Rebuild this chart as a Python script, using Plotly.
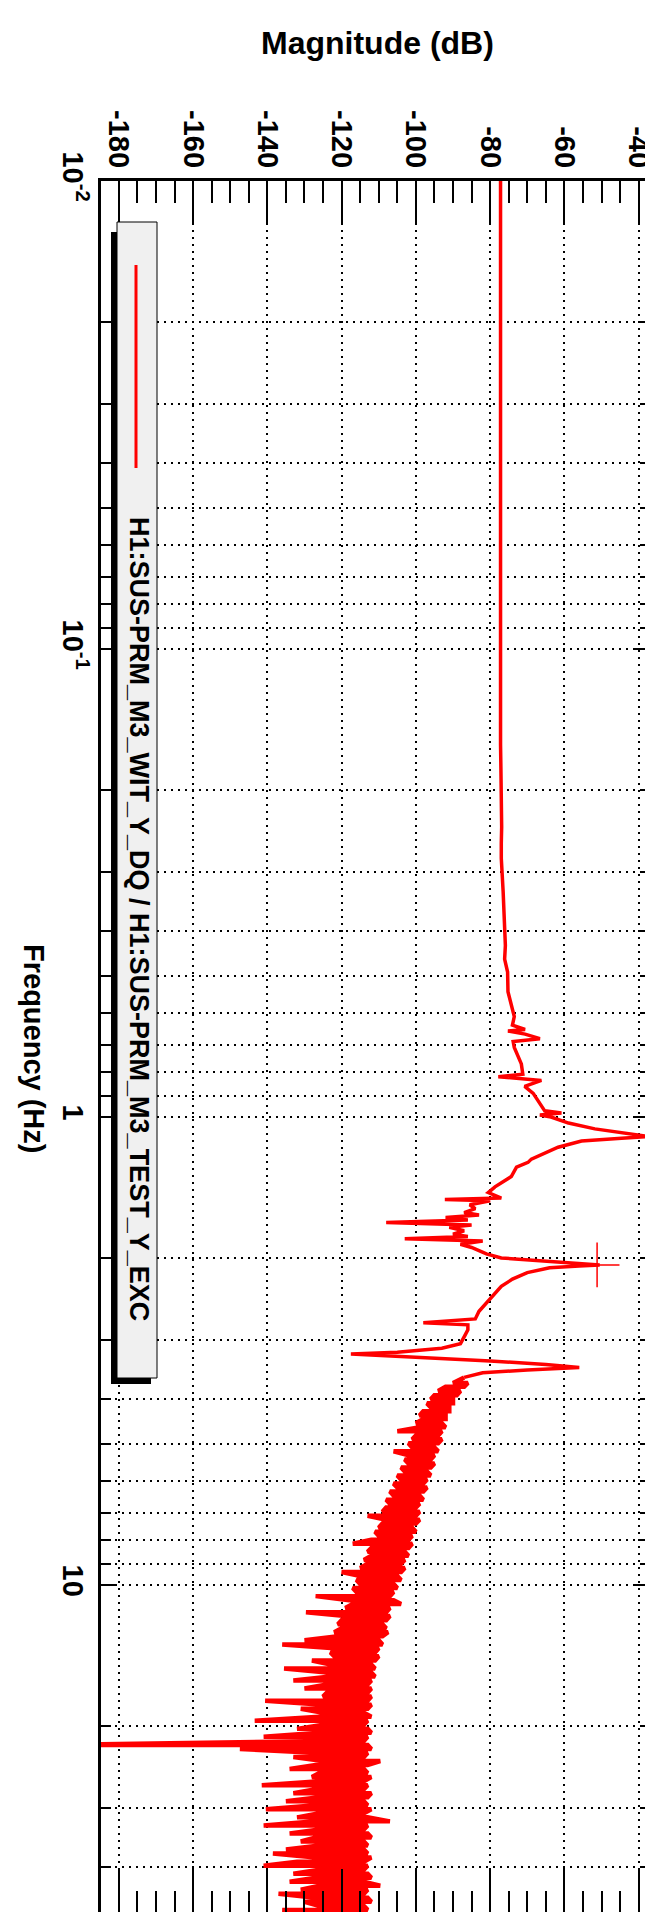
import math
import plotly.graph_objects as go

# ---------------- data ----------------
# low-frequency flat part and first resonance (single-valued line)
freq_low = [0.01, 0.015, 0.02, 0.03, 0.04, 0.05, 0.06, 0.07, 0.08, 0.1, 0.12,
            0.14, 0.16, 0.18, 0.2, 0.22, 0.24, 0.26, 0.28]
mag_low = [-77.2, -77.2, -77.3, -77.3, -77.4, -77.4, -77.3, -77.4, -77.3, -77.3,
           -77.3, -77.2, -77.2, -77.1, -77.0, -77.0, -76.9, -77.0, -77.0]

freq_mid = [0.33, 0.39, 0.43, 0.46, 0.49, 0.54, 0.575, 0.61, 0.636, 0.65, 0.655,
            0.665, 0.68, 0.69, 0.71, 0.74, 0.77, 0.81, 0.82, 0.835, 0.86, 0.89,
            0.94, 0.97, 0.98, 0.99, 1.0, 1.03, 1.06, 1.085, 1.10, 1.11, 1.125,
            1.16, 1.195, 1.23, 1.25, 1.28, 1.34, 1.38, 1.41, 1.45, 1.49, 1.5,
            1.51, 1.54]
mag_mid = [-76.5, -76.0, -75.9, -76.1, -75.3, -75.2, -74.4, -73.5, -74.0, -70.6,
           -75.2, -70.6, -66.6, -73.8, -73.5, -72.5, -71.6, -71.2, -77.8, -66.2,
           -70.7, -68.4, -66.6, -65.3, -60.8, -66.6, -63.6, -58.9, -51.8, -42.8,
           -37.4, -44.6, -55.4, -61.7, -65.3, -68.9, -69.8, -72.9, -74.3, -77.0,
           -78.7, -80.5, -77.0, -92.2, -80.0, -85.5]

# second and third resonances
freq_res = [1.57, 1.6, 1.62, 1.64, 1.66, 1.68, 1.7, 1.72, 1.75, 1.78, 1.8, 1.82,
            1.84, 1.87, 1.9, 1.93, 1.96, 2.0, 2.03, 2.06, 2.07, 2.08, 2.1, 2.15,
            2.22, 2.3, 2.4, 2.5, 2.6, 2.7, 2.75, 2.78, 2.85, 2.95, 3.05, 3.12,
            3.18, 3.21, 3.26, 3.32, 3.38, 3.43, 3.47, 3.52, 3.6]
mag_res = [-84, -87, -83, -92, -86, -108, -85, -91, -87, -90, -86, -103, -82,
           -88, -85, -83, -81, -77, -66, -52, -50.5, -56, -64, -70, -74, -77,
           -79, -81, -83, -84, -98, -86, -86, -87, -88, -93, -105, -117.5, -100,
           -80, -65, -56, -70, -82, -87]

# noisy high-frequency band: lower and upper envelope per frequency bin
freq_high = [3.70, 3.77, 3.85, 3.93, 4.01, 4.09, 4.17, 4.25, 4.34, 4.42, 4.51,
             4.60, 4.69, 4.79, 4.88, 4.98, 5.08, 5.18, 5.28, 5.39, 5.50, 5.61,
             5.72, 5.83, 5.95, 6.07, 6.19, 6.31, 6.44, 6.57, 6.70, 6.83, 6.97,
             7.11, 7.25, 7.39, 7.54, 7.69, 7.85, 8.00, 8.16, 8.33, 8.49, 8.66,
             8.84, 9.01, 9.19, 9.38, 9.56, 9.75, 9.95, 10.15, 10.35, 10.56,
             10.77, 10.98, 11.20, 11.43, 11.65, 11.89, 12.13, 12.37, 12.61,
             12.87, 13.12, 13.39, 13.65, 13.93, 14.20, 14.49, 14.78, 15.07,
             15.38, 15.68, 16.00, 16.32, 16.64, 16.98, 17.31, 17.66, 18.01,
             18.37, 18.74, 19.12, 19.50, 19.89, 20.29, 20.69, 21.10, 21.53,
             21.96, 22.40, 22.84, 23.30, 23.77, 24.24, 24.73, 25.22, 25.72,
             26.24, 26.76, 27.30, 27.85, 28.40, 28.97, 29.55, 30.14, 30.74,
             31.36, 31.98, 32.62, 33.28, 33.94, 34.62, 35.31, 36.02, 36.74,
             37.47, 38.22, 38.99, 39.77, 40.56, 41.37, 42.20, 43.05, 43.91,
             44.78, 45.68, 46.59, 47.52, 48.48, 49.44, 50.00]
mag_high_lo = [-90, -92, -94, -95, -96, -97, -96, -98, -99, -98, -100, -99, -105,
               -100, -101, -102, -101, -106, -102, -103, -102, -104, -103, -105,
               -104, -106, -105, -107, -106, -108, -107, -108, -109, -113, -108,
               -109, -110, -111, -110, -112, -117, -112, -113, -112, -114, -113,
               -115, -120, -115, -116, -115, -117, -116, -127, -118, -117, -119,
               -129.6, -119, -120, -121, -120, -122, -121, -130, -136, -122,
               -123, -122, -128, -123, -135.5, -124, -123, -133, -124, -130,
               -124, -125, -140.6, -125, -131, -125, -126, -143.4, -125, -132,
               -126, -141, -125, -195, -147.4, -126, -133, -125, -127, -134,
               -126, -128, -126, -141.5, -127, -133, -126, -135, -127, -140.4,
               -126, -132, -127, -141, -126, -134, -127, -131, -126, -135,
               -138.5, -127, -132, -141, -126, -133, -127, -134, -126, -131,
               -137, -127, -130, -126, -136, -127]
mag_high_hi = [-86, -87, -88, -89, -90, -90, -91, -91, -92, -92, -93, -92, -93,
               -94, -93, -94, -95, -94, -95, -96, -95, -96, -97, -96, -97, -98,
               -97, -98, -99, -98, -99, -100, -99, -100, -99, -100, -101, -100,
               -101, -102, -101, -102, -103, -102, -103, -104, -103, -104, -105,
               -104, -106, -105, -106, -107, -106, -104, -107, -108, -107, -108,
               -109, -108, -107.5, -109, -110, -109, -110, -111, -110, -111,
               -112, -111, -112, -111, -112, -113, -112, -113, -112, -113, -112,
               -113, -114, -112, -113, -114, -113, -112, -113, -114, -113, -112,
               -113, -114, -109.6, -113, -114, -113, -112, -114, -113, -114,
               -112, -113, -114, -113, -112, -114, -113, -107, -113, -114, -113,
               -112, -114, -113, -114, -113, -112, -114, -113, -114, -113, -112,
               -114, -109.6, -113, -114, -113, -112, -114, -113, -114]

cursor_freq = [2.07]
cursor_db = [-51.2]

legend_label = "H1:SUS-PRM_M3_WIT_Y_DQ / H1:SUS-PRM_M3_TEST_Y_EXC"
x_tick_vals = [-180, -160, -140, -120, -100, -80, -60, -40]
x_tick_text = ["-180", "-160", "-140", "-120", "-100", "-80", "-60", "-40"]
y_tick_vals = [0.01, 0.1, 1, 10]
y_tick_text = ["10<sup>-2</sup>", "10<sup>-1</sup>", "1", "10"]
y_minor_vals = [0.02, 0.03, 0.04, 0.05, 0.06, 0.07, 0.08, 0.09,
                0.2, 0.3, 0.4, 0.5, 0.6, 0.7, 0.8, 0.9,
                2, 3, 4, 5, 6, 7, 8, 9, 20, 30, 40]

# trace paths: single-valued line, then the noisy band traversed bin by bin
freq_line = freq_low + freq_mid + freq_res
mag_line = mag_low + mag_mid + mag_res
freq_band = [freq_res[-1]]
mag_band = [mag_res[-1]]
for i, f in enumerate(freq_high):
    if i % 2 == 0:
        pair = (mag_high_lo[i], mag_high_hi[i])
    else:
        pair = (mag_high_hi[i], mag_high_lo[i])
    freq_band += [f, f]
    mag_band += list(pair)

# ---------------- layout geometry ----------------
W, H = 653, 1912
L, R, T, B = 93, 11, 173, 7
PW, PH = W - L - R, H - T - B


def px(x):
    return (x - L) / PW


def py(y):
    return 1 - (y - T) / PH


FONT = "Liberation Sans"
RED = "#ff0000"

fig = go.Figure()
fig.add_trace(go.Scatter(x=mag_line, y=freq_line, mode="lines",
                         line=dict(color=RED, width=3.5), showlegend=False))
fig.add_trace(go.Scatter(x=mag_band, y=freq_band, mode="lines",
                         line=dict(color=RED, width=4.5), showlegend=False))
fig.add_trace(go.Scatter(x=cursor_db, y=cursor_freq, mode="markers",
                         marker=dict(symbol="cross-thin", size=32,
                                     line=dict(color=RED, width=1.5)),
                         showlegend=False))

dots = "2px,5px"
fig.update_xaxes(
    side="top", range=[-184.8, -36.95], tickvals=x_tick_vals, ticktext=x_tick_text,
    ticks="inside", ticklen=44, tickwidth=1.5, tickcolor="black",
    tickangle=90,
    tickfont=dict(family=FONT, size=29, color="black", weight="bold"),
    showline=True, linewidth=2.5, linecolor="black", mirror="allticks",
    showgrid=True, gridcolor="black", gridwidth=1.5, griddash=dots,
    minor=dict(dtick=5, tick0=0, ticks="inside", ticklen=22, tickwidth=1.5,
               tickcolor="black", showgrid=False),
    zeroline=False, automargin=False,
)
fig.update_yaxes(
    type="log", range=[math.log10(50.2), -2], tickvals=y_tick_vals,
    ticktext=y_tick_text, ticks="inside", ticklen=16, tickwidth=1.5,
    tickcolor="black", tickangle=90,
    tickfont=dict(family=FONT, size=29, color="black", weight="bold"),
    showline=True, linewidth=2.5, linecolor="black", mirror="allticks",
    showgrid=True, gridcolor="black", gridwidth=1.5, griddash=dots,
    minor=dict(tickvals=y_minor_vals, ticks="inside", ticklen=10, tickwidth=1.5,
               tickcolor="black", showgrid=True, gridcolor="black",
               gridwidth=1.5, griddash=dots),
    zeroline=False, automargin=False,
)

shapes = [
    dict(type="rect", xref="paper", yref="paper", x0=px(103), x1=px(143),
         y0=py(1376), y1=py(224), fillcolor="black", line=dict(width=0),
         layer="above"),
    dict(type="rect", xref="paper", yref="paper", x0=px(109), x1=px(149),
         y0=py(1370), y1=py(214), fillcolor="#f0f0f0",
         line=dict(color="black", width=1), layer="above"),
    dict(type="line", xref="paper", yref="paper", x0=px(128), x1=px(128),
         y0=py(257), y1=py(460), line=dict(color=RED, width=3),
         layer="above"),
]
annotations = [
    dict(text="<b>Magnitude (dB)</b>", xref="paper", yref="paper",
         x=px(369), y=py(35), xanchor="center", yanchor="middle",
         showarrow=False, font=dict(family=FONT, size=32, color="black")),
    dict(text="<b>Frequency (Hz)</b>", xref="paper", yref="paper",
         x=px(26), y=py(1040), xanchor="center", yanchor="middle",
         textangle=90, showarrow=False,
         font=dict(family=FONT, size=29, color="black")),
    dict(text="<b>" + legend_label + "</b>", xref="paper", yref="paper",
         x=px(131), y=py(911), xanchor="center", yanchor="middle",
         textangle=90, showarrow=False,
         font=dict(family=FONT, size=27, color="black")),
]

fig.update_layout(
    width=W, height=H, margin=dict(l=L, r=R, t=T, b=B, autoexpand=False),
    paper_bgcolor="white", plot_bgcolor="white", showlegend=False,
    shapes=shapes, annotations=annotations,
)
fig.write_html("out.html")
